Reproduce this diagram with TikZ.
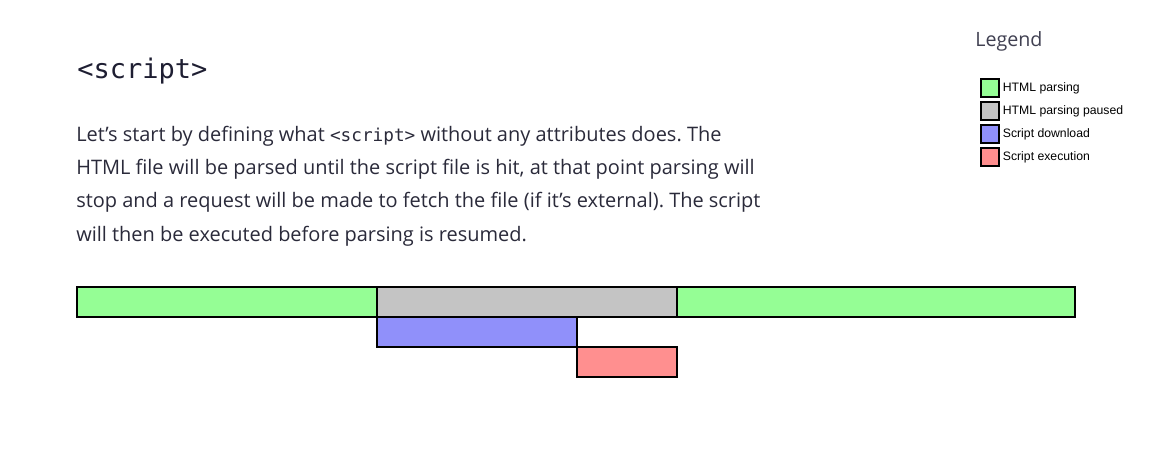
\documentclass[tikz,border=0pt]{standalone}
\usepackage{fontspec}
\setmainfont{Open Sans}
\setmonofont{DejaVu Sans Mono}
\newfontfamily\arialfont{Liberation Sans}
\usepackage{xcolor}
\usetikzlibrary{positioning}
\definecolor{parseGreen}{HTML}{95FE95}
\definecolor{pauseGray}{HTML}{C4C4C4}
\definecolor{loadBlue}{HTML}{9090FA}
\definecolor{execRed}{HTML}{FF8F8F}
\definecolor{inkNavy}{HTML}{1E1E32}
\definecolor{inkText}{HTML}{2A2A3A}
\frenchspacing

\begin{document}
\begin{tikzpicture}[x=0.025cm, y=-0.025cm,
  bar/.style={draw, line width=1.4pt, anchor=north west, minimum height=0.75cm, inner sep=0pt, outer sep=0pt},
  keybox/.style={draw, line width=1.1pt, minimum size=0.45cm, inner sep=0pt},
  keytext/.style={right=2pt of #1, font=\arialfont\fontsize{8.7}{10}\selectfont, inner sep=0pt}]
\useasboundingbox (0,0) rectangle (1157,450);
% --- heading and paragraph ---
\node[anchor=base west, inner sep=0pt, inkNavy, font=\ttfamily\fontsize{19.2}{22}\selectfont] (title) at (77,78) {<script>};
\node[anchor=base west, inner sep=0pt, inkText, align=left, font=\fontsize{14.2}{23.6}\selectfont] (para) at (76,241)
  {Let’s start by defining what {\ttfamily\fontsize{12.6}{23.6}\selectfont<script>} without any attributes does. The\\
   HTML file will be parsed until the script file is hit, at that point parsing will\\
   stop and a request will be made to fetch the file (if it’s external). The script\\
   will then be executed before parsing is resumed.};
% --- timeline ---
\node[bar, fill=parseGreen, minimum width=7.5cm] (parse1) at (77,287) {};
\node[bar, fill=pauseGray, minimum width=7.5cm] (paused) at (parse1.north east) {};
\node[bar, fill=parseGreen, minimum width=9.95cm] (parse2) at (paused.north east) {};
\node[bar, fill=loadBlue, minimum width=5cm] (download) at (paused.south west) {};
\node[bar, fill=execRed, minimum width=2.5cm] (execute) at (download.south east) {};
% --- legend ---
\node[anchor=base west, inner sep=0pt, inkNavy!85, font=\fontsize{14}{16}\selectfont] (legend) at (975,46) {Legend};
\node[keybox, fill=parseGreen] (k1) at (990,88) {};
\node[keybox, fill=pauseGray] (k2) at (990,111) {};
\node[keybox, fill=loadBlue] (k3) at (990,134) {};
\node[keybox, fill=execRed] (k4) at (990,157) {};
\node[keytext=k1] (t1) {HTML parsing};
\node[keytext=k2] (t2) {HTML parsing paused};
\node[keytext=k3] (t3) {Script download};
\node[keytext=k4] (t4) {Script execution};
\end{tikzpicture}
\end{document}
